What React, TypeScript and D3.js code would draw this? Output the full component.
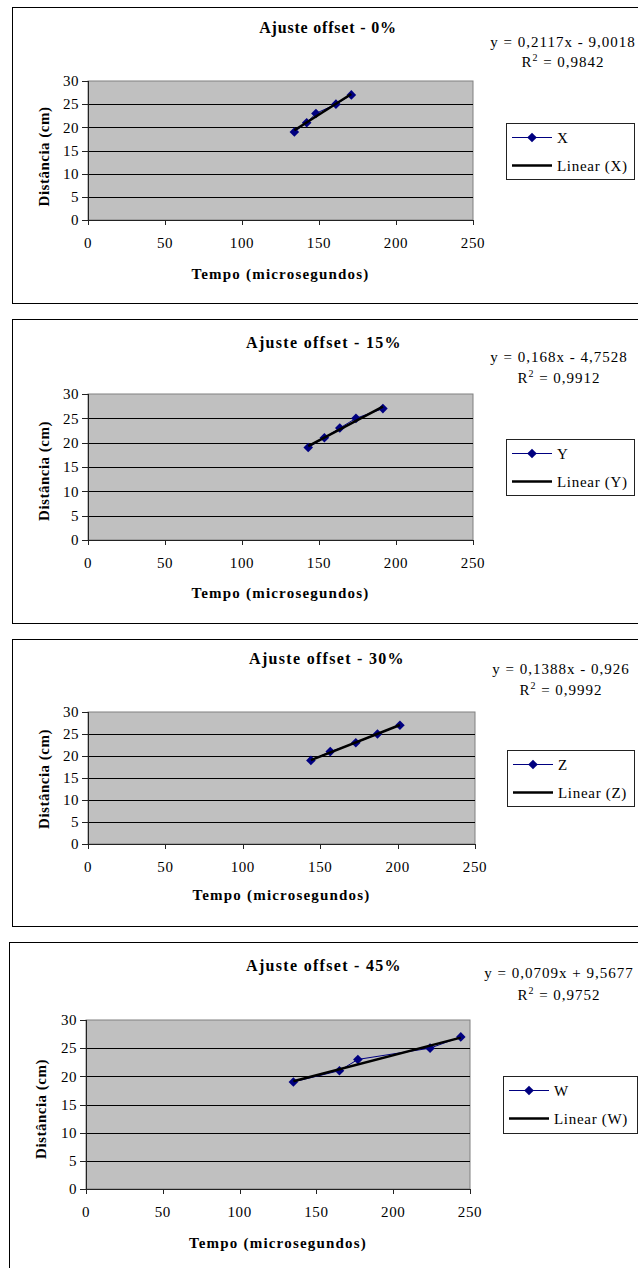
import React from "react";
import * as d3 from "d3";

// ---- data ----
const titles = ["Ajuste offset - 0%", "Ajuste offset - 15%", "Ajuste offset - 30%", "Ajuste offset - 45%"];
const seriesNames = ["X", "Y", "Z", "W"];
const distances = [19, 21, 23, 25, 27];
const timesX = [134, 142, 148, 161, 171];
const timesY = [143, 153.5, 163.5, 174, 191.5];
const timesZ = [144, 156.5, 173, 187, 201.5];
const timesW = [135, 165, 177, 224, 244];
const slopes = [0.2117, 0.168, 0.1388, 0.0709];
const intercepts = [-9.0018, -4.7528, -0.926, 9.5677];
const equations = ["y = 0,2117x - 9,0018", "y = 0,168x - 4,7528", "y = 0,1388x - 0,926", "y = 0,0709x + 9,5677"];
const r2Values = ["0,9842", "0,9912", "0,9992", "0,9752"];
const xTicks = [0, 50, 100, 150, 200, 250];
const yTicks = [0, 5, 10, 15, 20, 25, 30];
const xAxisTitle = "Tempo (microsegundos)";
const yAxisTitle = "Distância (cm)";

const timesList = [timesX, timesY, timesZ, timesW];

// ---- layout (page pixels) ----
const layouts = [
  { bx: 12, by: 7, bb: 303, l: 88, r: 473, t: 81, b: 220, titleY: 33, titleX: 328, titleLs: 0.8, eqX: 563, eqY: 47, r2Y: 67, xtY: 279, ytX: 49, ytY: 156.5, lg: { x: 506, y: 123, w: 128, h: 56 } },
  { bx: 12, by: 319, bb: 623, l: 88, r: 473, t: 394, b: 540, titleY: 347.5, titleX: 324, titleLs: 1.3, eqX: 559, eqY: 362, r2Y: 383, xtY: 598, ytX: 49, ytY: 471, lg: { x: 506, y: 439, w: 128, h: 56 } },
  { bx: 12, by: 639, bb: 926, l: 88, r: 475, t: 712, b: 844, titleY: 664, titleX: 327, titleLs: 1.3, eqX: 561, eqY: 674, r2Y: 695, xtY: 900, ytX: 49, ytY: 779, lg: { x: 507, y: 750, w: 127, h: 56 } },
  { bx: 9, by: 942, bb: 1300, l: 86, r: 470, t: 1020, b: 1189, titleY: 971, titleX: 324, titleLs: 1.3, eqX: 559, eqY: 978, r2Y: 1000, xtY: 1248, ytX: 46, ytY: 1109, lg: { x: 503, y: 1076, w: 134, h: 57 } },
];

const FONT = "'Liberation Serif', 'Times New Roman', serif";
const NAVY = "#000080";

function diamond(x: number, y: number, s: number) {
  return `M${x},${y - s}L${x + s},${y}L${x},${y + s}L${x - s},${y}Z`;
}

function Chart({ i }: { i: number }) {
  const L = layouts[i];
  const xs = timesList[i];
  const x = d3.scaleLinear().domain([0, 250]).range([L.l, L.r]);
  const y = d3.scaleLinear().domain([0, 30]).range([L.b, L.t]);
  const pts = xs.map((t, k) => [t, distances[k]] as [number, number]);
  const line = d3.line<[number, number]>().x((d) => x(d[0])).y((d) => y(d[1]));
  const [xmin, xmax] = d3.extent(xs) as [number, number];
  const trend: [number, number][] = [
    [xmin, slopes[i] * xmin + intercepts[i]],
    [xmax, slopes[i] * xmax + intercepts[i]],
  ];
  const lg = L.lg;
  return (
    <g>
      {/* chart box */}
      <rect x={L.bx + 0.5} y={L.by + 0.5} width={700} height={L.bb - L.by} fill="#fff" stroke="#000" strokeWidth={1} />
      {/* plot area */}
      <rect x={L.l} y={L.t} width={L.r - L.l} height={L.b - L.t} fill="#c0c0c0" stroke="#808080" strokeWidth={1} />
      {yTicks.filter((v) => v > 0 && v < 30).map((v) => (
        <line key={"g" + v} x1={L.l} x2={L.r} y1={Math.round(y(v)) + 0.5} y2={Math.round(y(v)) + 0.5} stroke="#000" strokeWidth={1} />
      ))}
      {/* axes */}
      <line x1={L.l + 0.5} x2={L.l + 0.5} y1={L.t} y2={L.b} stroke="#222" strokeWidth={1} />
      <line x1={L.l} x2={L.r} y1={L.b + 0.5} y2={L.b + 0.5} stroke="#222" strokeWidth={1} />
      {yTicks.map((v) => (
        <g key={"yt" + v}>
          <line x1={L.l - 6} x2={L.l} y1={Math.round(y(v)) + 0.5} y2={Math.round(y(v)) + 0.5} stroke="#222" />
          <text x={L.l - 9} y={y(v)} dy="0.35em" textAnchor="end" fontSize={15} fontFamily={FONT} letterSpacing={0.5}>{v}</text>
        </g>
      ))}
      {xTicks.map((v) => (
        <g key={"xt" + v}>
          <line x1={Math.round(x(v)) + 0.5} x2={Math.round(x(v)) + 0.5} y1={L.b} y2={L.b + 5} stroke="#222" />
          <text x={x(v)} y={L.b + 28} textAnchor="middle" fontSize={15} fontFamily={FONT} letterSpacing={0.6}>{v}</text>
        </g>
      ))}
      {/* series */}
      <path d={line(pts) || ""} fill="none" stroke={NAVY} strokeWidth={1} />
      {pts.map((p, k) => (
        <path key={"m" + k} d={diamond(x(p[0]), y(p[1]), 4.8)} fill={NAVY} />
      ))}
      <path d={line(trend) || ""} fill="none" stroke="#000" strokeWidth={2.5} />
      {/* titles */}
      <text x={L.titleX} y={L.titleY} textAnchor="middle" fontSize={16} fontWeight="bold" fontFamily={FONT} letterSpacing={L.titleLs}>{titles[i]}</text>
      <text x={(L.l + L.r) / 2} y={L.xtY} textAnchor="middle" fontSize={15} fontWeight="bold" fontFamily={FONT} letterSpacing={1.2}>{xAxisTitle}</text>
      <text transform={`translate(${L.ytX},${L.ytY}) rotate(-90)`} textAnchor="middle" fontSize={15} fontWeight="bold" fontFamily={FONT} letterSpacing={0.5}>{yAxisTitle}</text>
      {/* equation */}
      <text x={L.eqX} y={L.eqY} textAnchor="middle" fontSize={15} fontFamily={FONT} letterSpacing={1}>{equations[i]}</text>
      <text x={L.eqX} y={L.r2Y} textAnchor="middle" fontSize={15} fontFamily={FONT} letterSpacing={1}>
        R<tspan fontSize={10} dy={-6}>2</tspan><tspan dy={6}>{" = " + r2Values[i]}</tspan>
      </text>
      {/* legend */}
      <rect x={lg.x + 0.5} y={lg.y + 0.5} width={lg.w} height={lg.h} fill="#fff" stroke="#222" strokeWidth={1} />
      <line x1={lg.x + 6} x2={lg.x + 46} y1={lg.y + 14.5} y2={lg.y + 14.5} stroke={NAVY} strokeWidth={1} />
      <path d={diamond(lg.x + 26, lg.y + 14.5, 4.8)} fill={NAVY} />
      <text x={lg.x + 51} y={lg.y + 14.5} dy="0.35em" fontSize={15} fontFamily={FONT} letterSpacing={0.7}>{seriesNames[i]}</text>
      <line x1={lg.x + 6} x2={lg.x + 46} y1={lg.y + 42.5} y2={lg.y + 42.5} stroke="#000" strokeWidth={2.5} />
      <text x={lg.x + 51} y={lg.y + 42.5} dy="0.35em" fontSize={15} fontFamily={FONT} letterSpacing={0.7}>{`Linear (${seriesNames[i]})`}</text>
    </g>
  );
}

export default function App() {
  return (
    <svg width={638} height={1268} style={{ position: "absolute", left: 0, top: 0, background: "#fff" }}>
      <rect width={638} height={1268} fill="#fff" />
      {titles.map((_, i) => (
        <Chart key={i} i={i} />
      ))}
    </svg>
  );
}
